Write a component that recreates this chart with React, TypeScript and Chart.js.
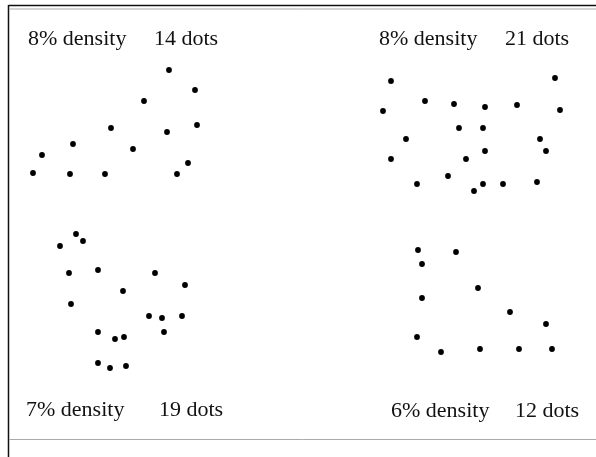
import React, { useEffect, useRef } from "react";
import { Chart, registerables } from "chart.js";

Chart.register(...registerables);

// Dot positions per panel (x, y in picture units; y grows downward)
const panelTLx = [169, 195, 144, 111, 197, 167, 73, 42, 133, 188, 33, 70, 105, 177];
const panelTLy = [70, 90, 101, 128, 125, 132, 144, 155, 149, 163, 173, 174, 174, 174];

const panelTRx = [391, 555, 383, 425, 454, 485, 517, 560, 459, 483, 406, 540, 485, 546, 391, 466, 448, 417, 474, 483, 503, 537];
const panelTRy = [81, 78, 111, 101, 104, 107, 105, 110, 128, 128, 139, 139, 151, 151, 159, 159, 176, 184, 191, 184, 184, 182];

const panelBLx = [76, 83, 60, 69, 98, 155, 185, 123, 71, 149, 162, 182, 164, 98, 115, 124, 98, 110, 126];
const panelBLy = [234, 241, 246, 273, 270, 273, 285, 291, 304, 316, 318, 316, 332, 332, 339, 337, 363, 368, 366];

const panelBRx = [418, 456, 422, 478, 422, 510, 546, 417, 441, 480, 519, 552];
const panelBRy = [250, 252, 264, 288, 298, 312, 324, 337, 352, 349, 349, 349];

// Labels: text, x, y
const labelTexts = ["8% density", "14 dots", "8% density", "21 dots", "7% density", "19 dots", "6% density", "12 dots"];
const labelX = [28, 154, 379, 505, 26, 159, 391, 515];
const labelY = [39, 39, 39, 39, 410, 410, 411, 411];

const toPoints = (xs: number[], ys: number[]) => xs.map((x, i) => ({ x, y: ys[i] }));

export default function App() {
  const ref = useRef<HTMLCanvasElement | null>(null);
  useEffect(() => {
    document.body.style.margin = "0";
    const canvas = ref.current!;
    const framePlugin = {
      id: "frame",
      beforeDatasetsDraw(chart: any) {
        const { ctx, scales } = chart;
        const sx = scales.x;
        const sy = scales.y;
        ctx.save();
        // frame lines
        ctx.strokeStyle = "#111";
        ctx.lineWidth = 1.5;
        ctx.beginPath();
        ctx.moveTo(sx.getPixelForValue(8.5), sy.getPixelForValue(5.5));
        ctx.lineTo(sx.getPixelForValue(596), sy.getPixelForValue(5.5));
        ctx.moveTo(sx.getPixelForValue(8.5), sy.getPixelForValue(5));
        ctx.lineTo(sx.getPixelForValue(8.5), sy.getPixelForValue(457));
        ctx.stroke();
        ctx.strokeStyle = "#aaa";
        ctx.lineWidth = 1;
        ctx.beginPath();
        ctx.moveTo(sx.getPixelForValue(9), sy.getPixelForValue(9));
        ctx.lineTo(sx.getPixelForValue(596), sy.getPixelForValue(9));
        ctx.moveTo(sx.getPixelForValue(9), sy.getPixelForValue(439.5));
        ctx.lineTo(sx.getPixelForValue(596), sy.getPixelForValue(439.5));
        ctx.stroke();
        // labels
        ctx.fillStyle = "#111";
        ctx.font = "22px 'Liberation Serif', 'Times New Roman', serif";
        ctx.textBaseline = "middle";
        ctx.textAlign = "left";
        labelTexts.forEach((t, i) => {
          ctx.fillText(t, sx.getPixelForValue(labelX[i]), sy.getPixelForValue(labelY[i]));
        });
        ctx.restore();
      },
    };
    const ds = (data: { x: number; y: number }[]) => ({
      data,
      backgroundColor: "#000",
      borderColor: "#000",
      pointRadius: 2.9,
      pointBorderWidth: 0,
    });
    const chart = new Chart(canvas, {
      type: "scatter",
      data: {
        datasets: [
          ds(toPoints(panelTLx, panelTLy)),
          ds(toPoints(panelTRx, panelTRy)),
          ds(toPoints(panelBLx, panelBLy)),
          ds(toPoints(panelBRx, panelBRy)),
        ],
      },
      options: {
        animation: false,
        responsive: false,
        maintainAspectRatio: false,
        layout: { padding: 0, autoPadding: false },
        plugins: { legend: { display: false }, tooltip: { enabled: false } },
        scales: {
          x: { type: "linear", min: 0, max: 596, display: false },
          y: { type: "linear", min: 0, max: 457, reverse: true, display: false },
        },
      },
      plugins: [framePlugin],
    });
    return () => chart.destroy();
  }, []);
  return (
    <div style={{ position: "fixed", left: 0, top: 0, width: 596, height: 457, background: "#fff" }}>
      <canvas ref={ref} width={596} height={457} style={{ width: 596, height: 457, display: "block" }} />
    </div>
  );
}
